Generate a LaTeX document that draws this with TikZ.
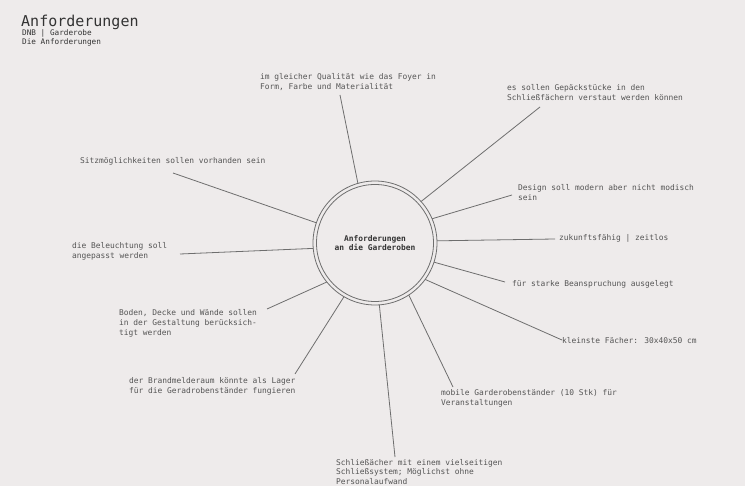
\documentclass[tikz,border=0pt]{standalone}
\usepackage{fontspec}
\setmainfont{DejaVu Sans Mono}
\setmonofont{DejaVu Sans Mono}
\definecolor{bg}{HTML}{EEEBEB}
\definecolor{ink}{HTML}{555555}
\definecolor{dark}{HTML}{333333}
\definecolor{wire}{HTML}{6E6E6E}
\begin{document}
\begin{tikzpicture}[x=1pt,y=-1pt,
  lbl/.style={anchor=north west, inner sep=0pt, outer sep=0pt, align=left, text=ink, font=\fontsize{7.9}{10.5}\selectfont},
  spoke/.style={draw=wire, line width=0.8pt},
  hub/.style={circle, draw=wire, line width=0.8pt, minimum size=124pt, inner sep=0pt, outer sep=0pt, align=center, text=dark, font=\bfseries\fontsize{7.9}{9.3}\selectfont},
  ttl/.style={anchor=base west, inner sep=0pt, text=dark, font=\fontsize{15}{18}\selectfont},
  sub/.style={anchor=base west, inner sep=0pt, text=dark, font=\fontsize{7.7}{9}\selectfont}]
\fill[bg] (0,0) rectangle (745,486);
\useasboundingbox (0,0) rectangle (745,486);

\node[ttl] (title) at (21,27) {Anforderungen};
\node[sub] (sub1) at (22,36) {DNB | Garderobe};
\node[sub] (sub2) at (22,45) {Die Anforderungen};

\node[hub] (hub) at (375,243) {Anforderungen\\an die Garderoben};
\draw[wire, line width=0.8pt] (hub.center) circle (58.5);

\node[lbl] (t1) at (260,73) {im gleicher Qualität wie das Foyer in\\Form, Farbe und Materialität};
\node[lbl] (t2) at (507,84) {es sollen Gepäckstücke in den\\Schließfächern verstaut werden können};
\node[lbl] (t3) at (80,157) {Sitzmöglichkeiten sollen vorhanden sein};
\node[lbl] (t4) at (518,184) {Design soll modern aber nicht modisch\\sein};
\node[lbl] (t5) at (559,234) {zukunftsfähig | zeitlos};
\node[lbl] (t6) at (72,242) {die Beleuchtung soll\\angepasst werden};
\node[lbl] (t7) at (512,280) {für starke Beanspruchung ausgelegt};
\node[lbl, font=\fontsize{7.9}{10}\selectfont] (t8) at (119,309) {Boden, Decke und Wände sollen\\in der Gestaltung berücksich-\\tigt werden};
\node[lbl] (t9) at (562,337) {kleinste Fächer: 30x40x50 cm};
\node[lbl, font=\fontsize{7.9}{10}\selectfont] (t10) at (129,377) {der Brandmelderaum könnte als Lager\\für die Geradrobenständer fungieren};
\node[lbl, font=\fontsize{7.9}{10}\selectfont] (t11) at (441,389) {mobile Garderobenständer (10 Stk) für\\Veranstaltungen};
\node[lbl, font=\fontsize{7.9}{9.5}\selectfont] (t12) at (336,459) {Schließächer mit einem vielseitigen\\Schließsystem; Möglichst ohne\\Personalaufwand};

\coordinate (e1) at (340,95);
\coordinate (e2) at (540,107);
\coordinate (e3) at (173,173);
\coordinate (e4) at (512,195);
\coordinate (e5) at (555,239);
\coordinate (e6) at (180,254);
\coordinate (e7) at (505,282);
\coordinate (e8) at (267,309);
\coordinate (e9) at (562,340);
\coordinate (e10) at (295,374);
\coordinate (e11) at (453,387);
\coordinate (e12) at (395,457);

\draw[spoke] (hub.106.3) -- (e1);
\draw[spoke] (hub.42.5) -- (e2);
\draw[spoke] (hub.161.9) -- (e3);
\draw[spoke] (hub.23) -- (e4);
\draw[spoke] (hub.2.7) -- (e5);
\draw[spoke] (hub.185.5) -- (e6);
\draw[spoke] (hub.-18.2) -- (e7);
\draw[spoke] (hub.219.1) -- (e8);
\draw[spoke] (hub.-36.9) -- (e9);
\draw[spoke] (hub.240.1) -- (e10);
\draw[spoke] (hub.-57.3) -- (e11);
\draw[spoke] (hub.-86.2) -- (e12);
\end{tikzpicture}
\end{document}
